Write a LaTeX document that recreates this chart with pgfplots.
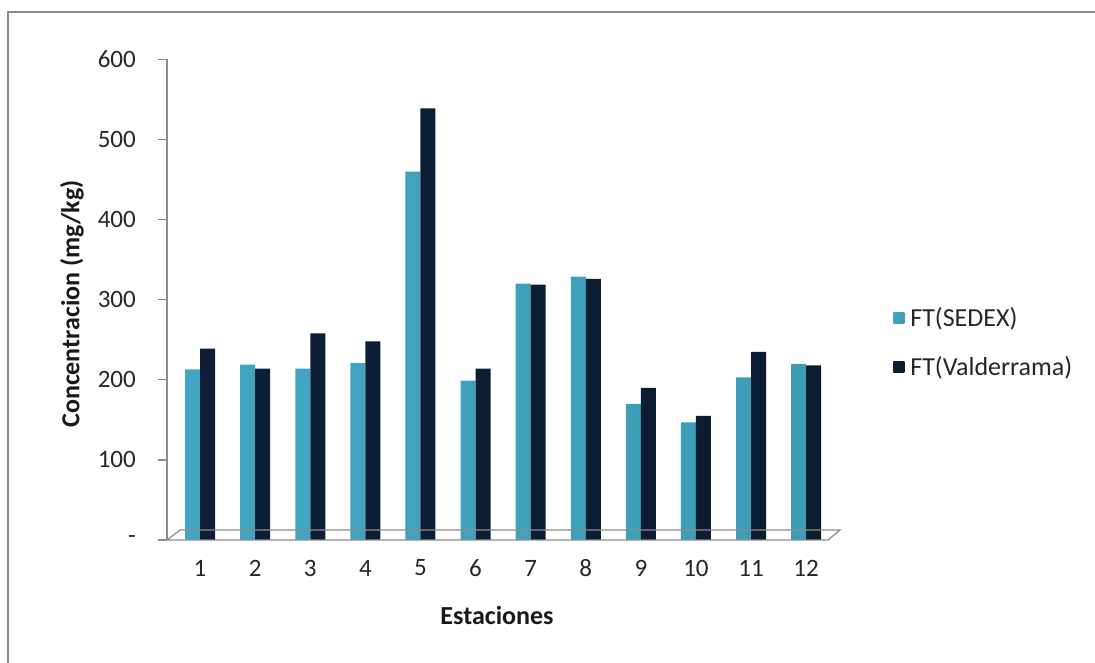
\documentclass[border=0pt]{standalone}
\usepackage{pgfplots}
\pgfplotsset{compat=1.18}
\usepackage{fontspec}
\setmainfont{Carlito}
\definecolor{sedexL}{HTML}{42A6C2}
\definecolor{sedexM}{HTML}{60C4DE}
\definecolor{sedexR}{HTML}{3D9CB6}
\definecolor{valL}{HTML}{0D1F37}
\definecolor{valM}{HTML}{1A3558}
\definecolor{valR}{HTML}{0B1B30}
\definecolor{framegray}{HTML}{8A8A8A}
\definecolor{axgray}{HTML}{8C8C8C}
\begin{document}
\begin{tikzpicture}[x=1pt,y=1pt]
\path[use as bounding box] (0,0) rectangle (1095,663);
\draw[framegray, line width=1.5pt] (8,-2) -- (8,651) -- (1097,651);
\begin{axis}[
  at={(167pt,123pt)}, anchor=south west,
  scale only axis, width=673.3pt, height=480.5pt,
  xmin=0.4, xmax=12.62, ymin=0, ymax=600,
  clip=false,
  ybar=0pt, bar width=15pt,
  separate axis lines,
  axis x line=none,
  axis y line*=left,
  y axis line style={draw=axgray, line width=1.2pt, -},
  ytick={0,100,200,300,400,500,600},
  yticklabels={-,100,200,300,400,500,600},
  tick align=outside, major tick length=9pt,
  ytick style={draw=axgray, line width=1.2pt},
  yticklabel style={font=\fontsize{25}{30}\selectfont, text=black!85, inner sep=0pt, xshift=-22pt},
  /pgf/number format/assume math mode=true,
  legend style={at={(1.074,0.492)}, anchor=north west, draw=none, fill=none,
    font=\fontsize{26}{30}\selectfont, row sep=24pt, text=black!85,
    legend cell align=left},
  legend image code/.code={\path[#1, draw=none] (0pt,-5.5pt) rectangle (11pt,5.5pt);\path (0pt,0pt) -- (15pt,0pt);},
]
\addplot[draw=none, left color=sedexL, middle color=sedexM, right color=sedexR] coordinates {
(1,213) (2,219) (3,214) (4,221) (5,460) (6,199) (7,320) (8,329) (9,170) (10,147) (11,203) (12,220)};
\addplot[draw=none, left color=valL, middle color=valM, right color=valR] coordinates {
(1,239) (2,214) (3,258) (4,248) (5,539) (6,214) (7,319) (8,326) (9,190) (10,155) (11,235) (12,218)};
\legend{FT(SEDEX), FT(Valderrama)}
\draw[axgray, line width=1.2pt] (axis cs:0.401,0) -- (axis cs:0.637,12.5) -- (axis cs:12.615,12.5) -- (axis cs:12.397,0) -- cycle;
\pgfplotsinvokeforeach{1,...,12}{
  \node[font=\fontsize{25}{30}\selectfont, text=black!85, anchor=center, yshift=-28pt] at (axis cs:#1,0) {#1};
}
\end{axis}
\node[font=\bfseries\fontsize{26}{30}\selectfont, text=black!90] at (497,48) {Estaciones};
\node[font=\bfseries\fontsize{26}{30}\selectfont, text=black!90, rotate=90] at (72,359) {Concentracion (mg/kg)};
\end{tikzpicture}
\end{document}
